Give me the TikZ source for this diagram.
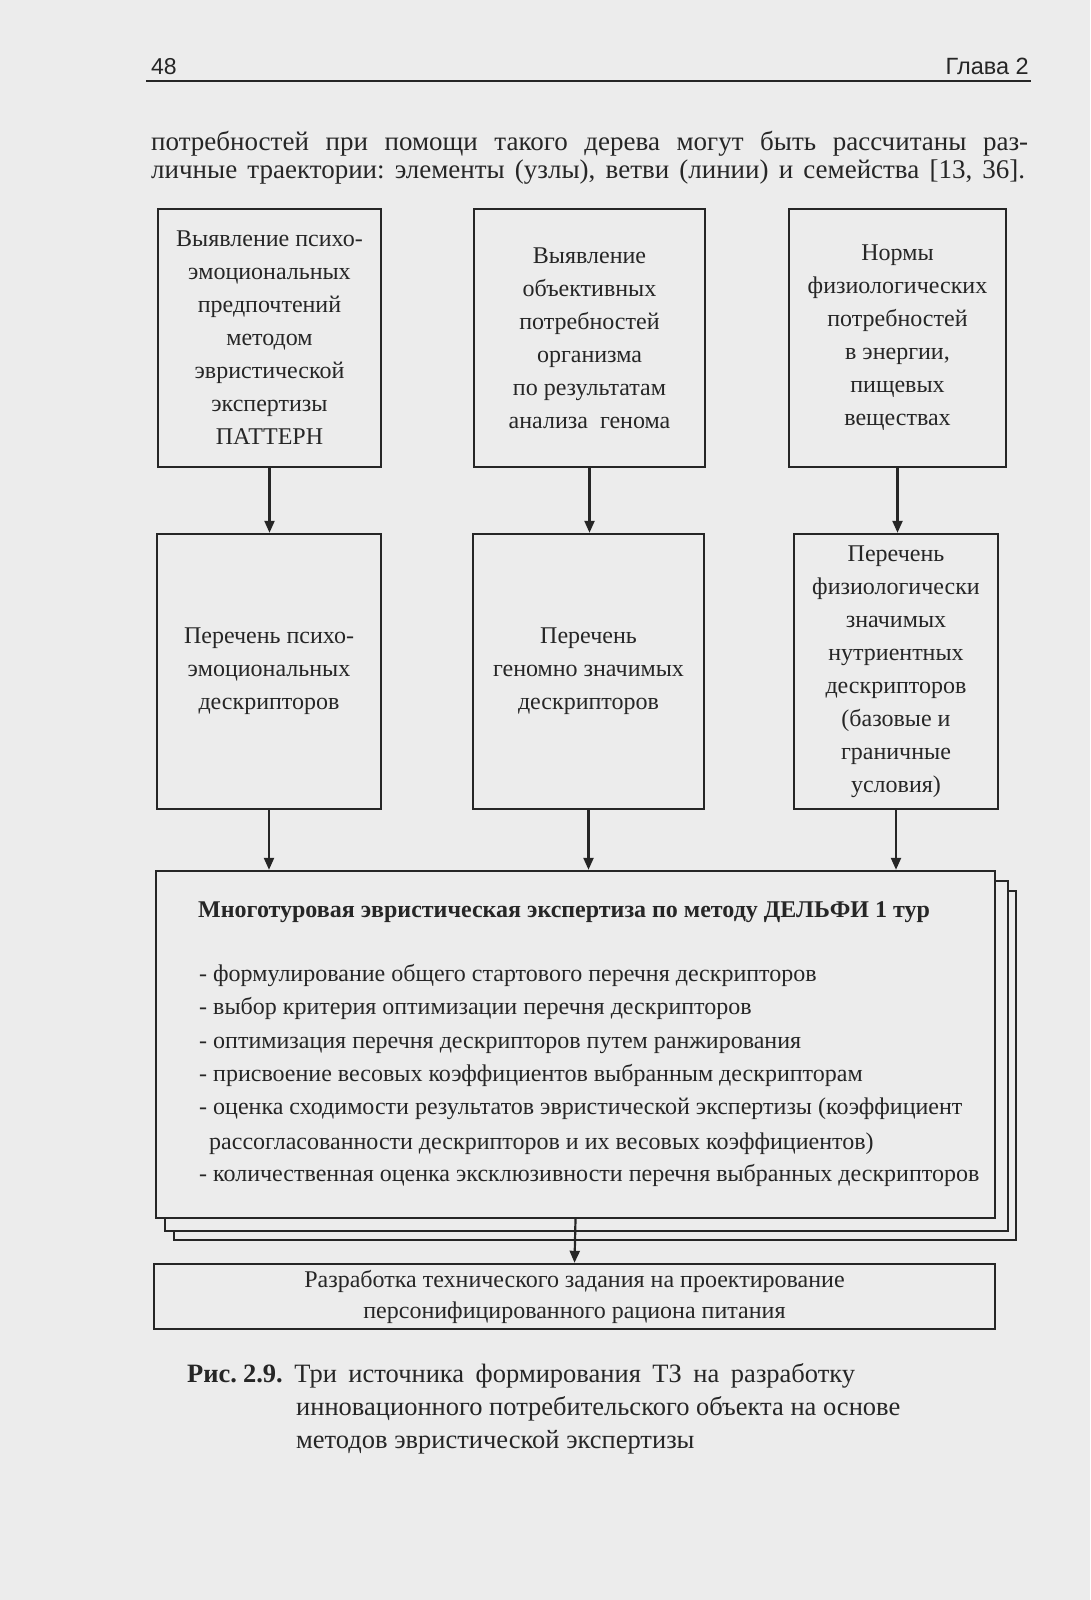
\documentclass[tikz,border=0pt]{standalone}
\usepackage{fontspec}
\setmainfont{Liberation Serif}
\newfontfamily\headfont{Liberation Sans}
\usetikzlibrary{arrows.meta, positioning, backgrounds}
\definecolor{PageGray}{RGB}{236,236,236}
\definecolor{InkGray}{RGB}{38,38,38}
\newcommand{\boxfont}{\fontsize{24}{33}\selectfont}
\newcommand{\capfont}{\fontsize{26.5}{33}\selectfont}
\newcommand{\parafont}{\fontsize{27}{28}\selectfont}
\frenchspacing

\begin{document}
\begin{tikzpicture}[
        x=1pt, y=-1pt,
        box/.style={draw=InkGray, line width=2.4pt, fill=PageGray, align=center, inner sep=0pt, font=\boxfont, text=InkGray},
        line/.style={anchor=base west, inner sep=0pt, font=\boxfont, text=InkGray},
        arrow/.style={-{Triangle[length=12pt, width=10pt]}, line width=2.2pt, InkGray}
    ]
    \useasboundingbox (0,0) rectangle (1090,1600);

    % page head and text above the figure
    \node[line, font=\headfont\fontsize{23}{26}\selectfont] (pagenum) at (151,75) {48};
    \node[line, anchor=base east, font=\headfont\fontsize{23.5}{26}\selectfont] (chapter) at (1029,75) {Глава 2};
    \draw[InkGray, line width=2.4pt] (146,81) -- (1031,81);
    \node[line, font=\parafont] (para1) at (151,150) {\makebox[877pt][s]{потребностей при помощи такого дерева могут быть рассчитаны раз-}};
    \node[line, font=\parafont] (para2) at (151,178) {\makebox[874pt][s]{личные траектории: элементы (узлы), ветви (линии) и семейства [13, 36].}};

    % three sources
    \node[box, minimum width=223pt, minimum height=258pt] (psycho) at (269.5,338)
        {Выявление психо-\\эмоциональных\\предпочтений\\методом\\эвристической\\экспертизы\\ПАТТЕРН};
    \node[box, minimum width=231pt, minimum height=258pt] (genome) at (589.5,338)
        {Выявление\\объективных\\потребностей\\организма\\по результатам\\анализа~~генома};
    \node[box, minimum width=217pt, minimum height=258pt] (norms) at (897.5,338)
        {Нормы\\физиологических\\потребностей\\в энергии,\\пищевых\\веществах};

    % descriptor lists
    \node[box, minimum width=224pt, minimum height=275pt] (psycholist) at (269,671.5)
        {Перечень психо-\\эмоциональных\\дескрипторов};
    \node[box, minimum width=231pt, minimum height=275pt] (genomelist) at (588.5,671.5)
        {Перечень\\геномно значимых\\дескрипторов};
    \node[box, minimum width=204pt, minimum height=275pt] (physlist) at (896,671.5)
        {Перечень\\физиологически\\значимых\\нутриентных\\дескрипторов\\(базовые и\\граничные\\условия)};

    % Delphi expertise
    \node[box, minimum width=839pt, minimum height=347pt] (delphi) at (575.5,1044.5) {};
    \begin{scope}[on background layer]
        \fill[PageGray] (0,0) rectangle (1090,1600);
        \draw[box] ([shift={(19,21)}]delphi.north west) rectangle ([shift={(20,21)}]delphi.south east);
        \draw[box] ([shift={(10,11)}]delphi.north west) rectangle ([shift={(12,12)}]delphi.south east);
    \end{scope}
    \node[line, font=\boxfont\bfseries] (delphititle) at (198,917) {Многотуровая эвристическая экспертиза по методу ДЕЛЬФИ 1 тур};
    \node[line] (item1) at (199,981) {- формулирование общего стартового перечня дескрипторов};
    \node[line] (item2) at (199,1014.5) {- выбор критерия оптимизации перечня дескрипторов};
    \node[line] (item3) at (199,1048) {- оптимизация перечня дескрипторов путем ранжирования};
    \node[line] (item4) at (199,1081.5) {- присвоение весовых коэффициентов выбранным дескрипторам};
    \node[line] (item5) at (199,1114.5) {- оценка сходимости результатов эвристической экспертизы (коэффициент};
    \node[line] (item5b) at (209,1149) {рассогласованности дескрипторов и их весовых коэффициентов)};
    \node[line] (item6) at (199,1181.5) {- количественная оценка эксклюзивности перечня выбранных дескрипторов};

    % technical task
    \node[box, minimum width=841pt, minimum height=65pt, font=\fontsize{24}{31}\selectfont] (task) at (574.5,1296.5)
        {Разработка технического задания на проектирование\\персонифицированного рациона питания};

    \draw[arrow] (psycho.south) -- (psycho.south |- psycholist.north);
    \draw[arrow] (genome.south) -- (genome.south |- genomelist.north);
    \draw[arrow] (norms.south) -- (norms.south |- physlist.north);
    \draw[arrow] (psycholist.south) -- (psycholist.south |- delphi.north);
    \draw[arrow] (genomelist.south) -- (genomelist.south |- delphi.north);
    \draw[arrow] (physlist.south) -- (physlist.south |- delphi.north);
    \draw[arrow] (delphi.south) -- (task.north);

    % caption
    \node[line, font=\capfont] (cap1) at (187,1382) {\makebox[668pt][s]{\textbf{Рис.\hspace{6pt}2.9.} Три источника формирования ТЗ на разработку}};
    \node[line, font=\capfont] (cap2) at (296,1415) {инновационного потребительского объекта на основе};
    \node[line, font=\capfont] (cap3) at (296,1448) {методов эвристической экспертизы};
\end{tikzpicture}
\end{document}
